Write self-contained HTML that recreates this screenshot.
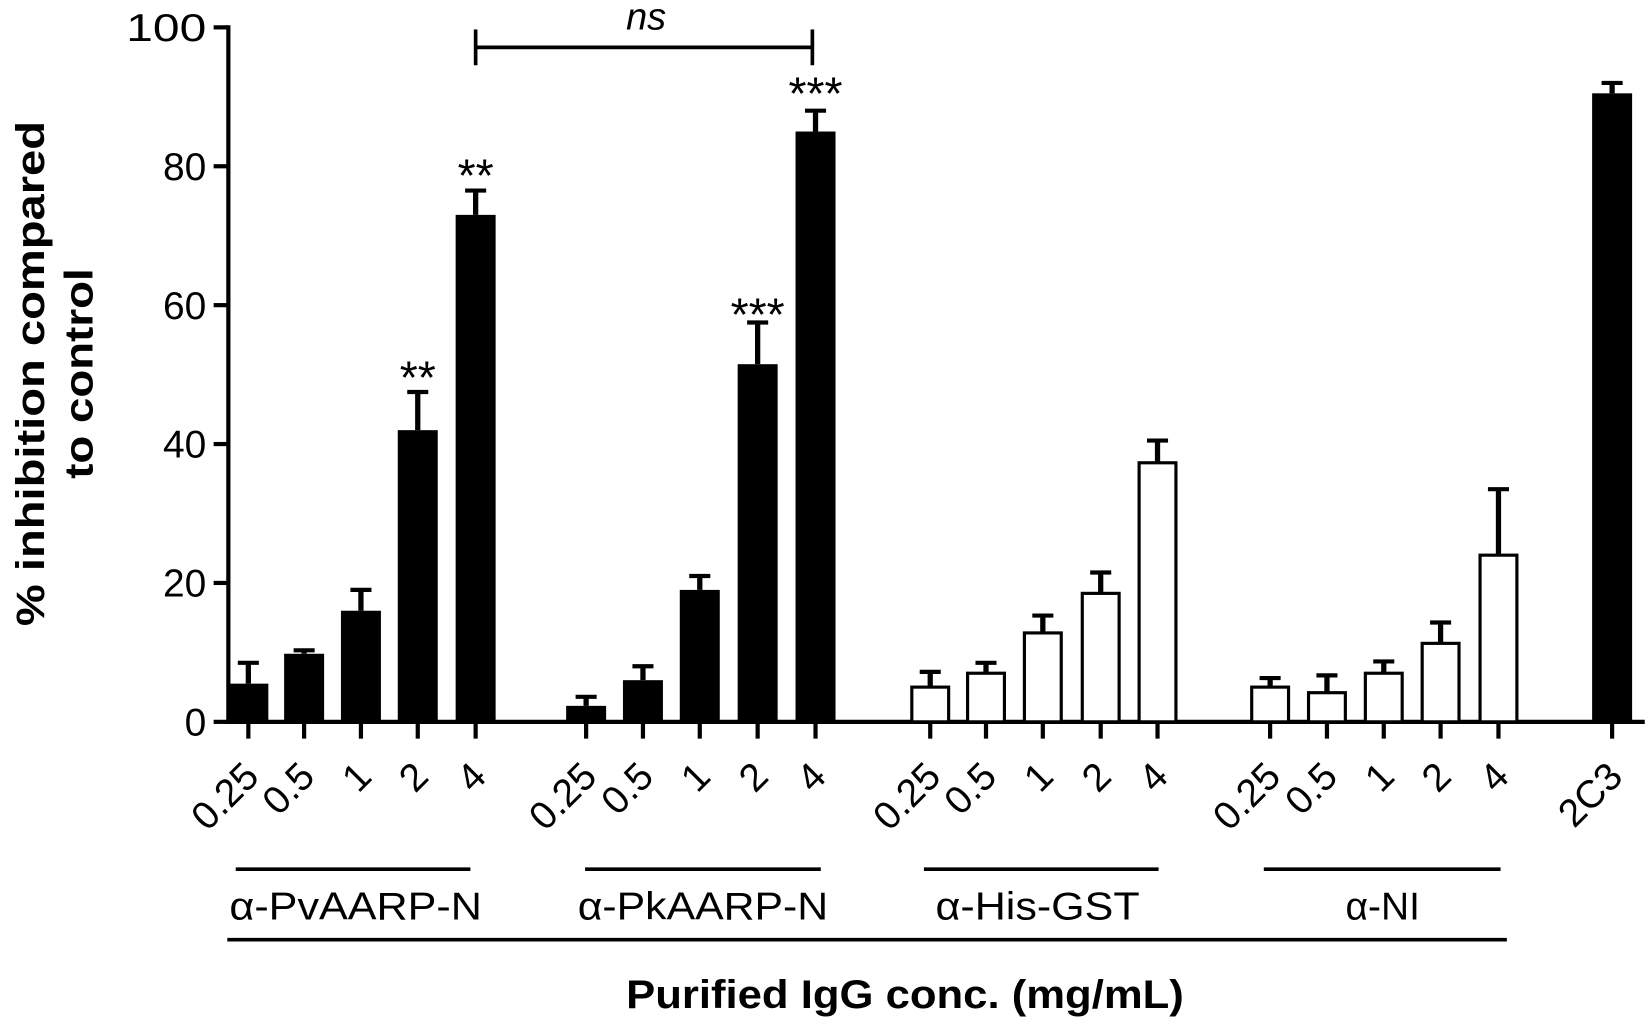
<!DOCTYPE html>
<html><head><meta charset="utf-8"><style>html,body{margin:0;padding:0;background:#fff}svg{display:block}</style></head>
<body>
<svg width="1650" height="1027" viewBox="0 0 1568 976" preserveAspectRatio="none" xmlns="http://www.w3.org/2000/svg" font-family="Liberation Sans, Arial, sans-serif">
<rect width="1568" height="976" fill="#fff"/>
<line x1="217" y1="24" x2="217" y2="688" stroke="#000" stroke-width="4"/>
<line x1="215" y1="686" x2="1563" y2="686" stroke="#000" stroke-width="4"/>
<g stroke="#000" stroke-width="4">
<line x1="203" y1="26" x2="217" y2="26"/><line x1="203" y1="158" x2="217" y2="158"/><line x1="203" y1="290" x2="217" y2="290"/><line x1="203" y1="422" x2="217" y2="422"/><line x1="203" y1="554" x2="217" y2="554"/><line x1="203" y1="686" x2="217" y2="686"/>
</g>
<g font-size="37" text-anchor="end" fill="#000">
<text x="196" y="39" textLength="76" lengthAdjust="spacingAndGlyphs">100</text><text x="196" y="171">80</text><text x="196" y="303">60</text><text x="196" y="435">40</text><text x="196" y="567">20</text><text x="196" y="699">0</text>
</g>
<g font-size="38" font-weight="bold" text-anchor="middle" fill="#000">
<text transform="translate(42,355) rotate(-90)" textLength="480" lengthAdjust="spacingAndGlyphs">% inhibition compared</text>
<text transform="translate(88,355) rotate(-90)" textLength="200" lengthAdjust="spacingAndGlyphs">to control</text>
</g>
<g fill="#000">
<rect x="217" y="649.7" width="38" height="36.3"/>
<rect x="270" y="621.3" width="38" height="64.7"/>
<rect x="324" y="580.4" width="38" height="105.6"/>
<rect x="378" y="408.8" width="38" height="277.2"/>
<rect x="433" y="204.2" width="38" height="481.8"/>
<rect x="538" y="670.8" width="38" height="15.2"/>
<rect x="592" y="646.4" width="38" height="39.6"/>
<rect x="646" y="560.6" width="38" height="125.4"/>
<rect x="701" y="346.1" width="38" height="339.9"/>
<rect x="756" y="125" width="38" height="561"/>
<rect x="1513" y="88.7" width="38" height="597.3"/>
</g>
<g fill="#fff" stroke="#000" stroke-width="3">
<rect x="866.5" y="653" width="35" height="33"/>
<rect x="919.5" y="639.8" width="35" height="46.2"/>
<rect x="973.5" y="601.5" width="35" height="84.5"/>
<rect x="1028.5" y="563.9" width="35" height="122.1"/>
<rect x="1082.5" y="439.8" width="35" height="246.2"/>
<rect x="1189.5" y="653" width="35" height="33"/>
<rect x="1243.5" y="658.3" width="35" height="27.7"/>
<rect x="1297.5" y="639.8" width="35" height="46.2"/>
<rect x="1351.5" y="611.4" width="35" height="74.6"/>
<rect x="1406.5" y="527.6" width="35" height="158.4"/>
</g>
<g stroke="#000" stroke-width="5" fill="none">
<path d="M236 649.7V629.9M289 621.3V618M343 580.4V560.6M397 408.8V372.5M452 204.2V181.1M557 670.8V662.2M611 646.4V633.2M665 560.6V547.4M720 346.1V306.5M775 125V105.2M884 653V638.5M937 639.8V629.9M991 601.5V585M1046 563.9V544.1M1100 439.8V418.7M1207 653V644.4M1261 658.3V641.8M1315 639.8V628.6M1369 611.4V591.6M1424 527.6V464.9M1532 88.7V78.8"/>
</g>
<g stroke="#000" stroke-width="4" fill="none">
<path d="M226 629.9h20M279 618h20M333 560.6h20M387 372.5h20M442 181.1h20M547 662.2h20M601 633.2h20M655 547.4h20M710 306.5h20M765 105.2h20M874 638.5h20M927 629.9h20M981 585h20M1036 544.1h20M1090 418.7h20M1197 644.4h20M1251 641.8h20M1305 628.6h20M1359 591.6h20M1414 464.9h20M1522 78.8h20"/>
</g>
<g stroke="#000" stroke-width="4" fill="none">
<path d="M236 686v16M289 686v16M343 686v16M397 686v16M452 686v16M557 686v16M611 686v16M665 686v16M720 686v16M775 686v16M884 686v16M937 686v16M991 686v16M1046 686v16M1100 686v16M1207 686v16M1261 686v16M1315 686v16M1369 686v16M1424 686v16M1532 686v16"/>
</g>
<g font-size="37" text-anchor="end" fill="#000">
<text transform="translate(248,740) rotate(-45)">0.25</text>
<text transform="translate(301,740) rotate(-45)">0.5</text>
<text transform="translate(355,740) rotate(-45)">1</text>
<text transform="translate(409,740) rotate(-45)">2</text>
<text transform="translate(464,740) rotate(-45)">4</text>
<text transform="translate(569,740) rotate(-45)">0.25</text>
<text transform="translate(623,740) rotate(-45)">0.5</text>
<text transform="translate(677,740) rotate(-45)">1</text>
<text transform="translate(732,740) rotate(-45)">2</text>
<text transform="translate(787,740) rotate(-45)">4</text>
<text transform="translate(896,740) rotate(-45)">0.25</text>
<text transform="translate(949,740) rotate(-45)">0.5</text>
<text transform="translate(1003,740) rotate(-45)">1</text>
<text transform="translate(1058,740) rotate(-45)">2</text>
<text transform="translate(1112,740) rotate(-45)">4</text>
<text transform="translate(1219,740) rotate(-45)">0.25</text>
<text transform="translate(1273,740) rotate(-45)">0.5</text>
<text transform="translate(1327,740) rotate(-45)">1</text>
<text transform="translate(1381,740) rotate(-45)">2</text>
<text transform="translate(1436,740) rotate(-45)">4</text>
<text transform="translate(1544,740) rotate(-45)">2C3</text>
</g>
<g stroke="#000" stroke-width="3.5"><line x1="452" y1="45" x2="772" y2="45"/><line x1="452" y1="28" x2="452" y2="62"/><line x1="772" y1="28" x2="772" y2="62"/></g>
<text x="614" y="28" font-size="36" font-style="italic" text-anchor="middle">ns</text>
<g font-size="44" text-anchor="middle">
<text x="397" y="374">**</text><text x="452" y="182">**</text><text x="720" y="314">***</text><text x="775" y="104">***</text>
</g>
<g stroke="#000" stroke-width="3.5">
<line x1="224" y1="826" x2="447" y2="826"/><line x1="556" y1="826" x2="780" y2="826"/><line x1="878" y1="826" x2="1101" y2="826"/><line x1="1201" y1="826" x2="1426" y2="826"/>
<line x1="216" y1="893" x2="1432" y2="893"/>
</g>
<g font-size="37" text-anchor="middle">
<text x="338" y="874" textLength="240" lengthAdjust="spacingAndGlyphs">α-PvAARP-N</text>
<text x="668" y="874" textLength="238" lengthAdjust="spacingAndGlyphs">α-PkAARP-N</text>
<text x="986" y="874" textLength="194" lengthAdjust="spacingAndGlyphs">α-His-GST</text>
<text x="1314" y="874">α-NI</text>
</g>
<text x="860" y="958" font-size="38" font-weight="bold" text-anchor="middle" textLength="530" lengthAdjust="spacingAndGlyphs">Purified IgG conc. (mg/mL)</text>
</svg>
</body></html>
